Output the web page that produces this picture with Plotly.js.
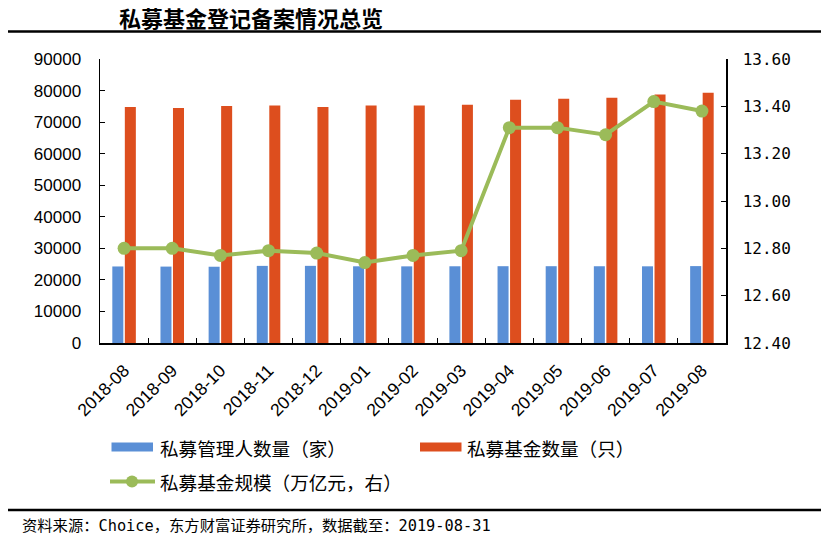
<!DOCTYPE html>
<html>
<head>
<meta charset="utf-8">
<script src="https://cdn.plot.ly/plotly-3.0.1.min.js"></script>
<style>html,body{margin:0;padding:0;background:#fff;}#chart{width:821px;height:538px;}</style>
</head>
<body>
<div id="chart"></div>
<script>
// ---- data ----
const months = ["2018-08","2018-09","2018-10","2018-11","2018-12","2019-01","2019-02","2019-03","2019-04","2019-05","2019-06","2019-07","2019-08"];
const managers = [24255, 24215, 24171, 24440, 24448, 24311, 24286, 24317, 24337, 24338, 24324, 24304, 24371];
const funds = [74790, 74470, 75100, 75300, 74790, 75300, 75300, 75520, 77100, 77410, 77730, 78780, 79320];
const scale = [12.80, 12.80, 12.77, 12.79, 12.78, 12.74, 12.77, 12.79, 13.31, 13.31, 13.28, 13.42, 13.38];
const seriesNames = ["私募管理人数量（家）", "私募基金数量（只）", "私募基金规模（万亿元，右）"];
const chartTitle = "私募基金登记备案情况总览";
const sourceNote = "资料来源：Choice，东方财富证券研究所，数据截至：2019-08-31";

const BLUE = "#5A8FD6", ORANGE = "#DD4E1E", GREEN = "#9BBB59";

// pixel helpers (plot area: l=100, r=95, t=59, b=195)
const L = 100, T = 59, PW = 821 - 100 - 95, PH = 538 - 59 - 195;
const px = x => (x - L) / PW;
const py = y => (T + PH - y) / PH;

const traces = [
  {type: "bar", x: months, y: managers, name: seriesNames[0], marker: {color: BLUE}, yaxis: "y"},
  {type: "bar", x: months, y: funds, name: seriesNames[1], marker: {color: ORANGE}, yaxis: "y"},
  {type: "scatter", mode: "lines+markers", x: months, y: scale, name: seriesNames[2], yaxis: "y2",
   line: {color: GREEN, width: 4}, marker: {color: GREEN, size: 13}}
];

const legendFont = {family: "Noto Sans CJK SC", size: 18.6, color: "#000"};
const shapes = [
  {type: "line", xref: "paper", yref: "paper", x0: px(8), x1: px(821), y0: py(31.5), y1: py(31.5), line: {color: "#000", width: 2.5}},
  {type: "line", xref: "paper", yref: "paper", x0: px(8), x1: px(821), y0: py(510), y1: py(510), line: {color: "#000", width: 2.5}},
  {type: "rect", xref: "paper", yref: "paper", x0: px(111.5), x1: px(153), y0: py(442.5), y1: py(451.5), fillcolor: BLUE, line: {width: 0}},
  {type: "rect", xref: "paper", yref: "paper", x0: px(420), x1: px(461.5), y0: py(442.5), y1: py(451.5), fillcolor: ORANGE, line: {width: 0}},
  {type: "line", xref: "paper", yref: "paper", x0: px(110), x1: px(155), y0: py(481.5), y1: py(481.5), line: {color: GREEN, width: 4}},
  {type: "circle", xref: "paper", yref: "paper", x0: px(126), x1: px(138), y0: py(475.5), y1: py(487.5), fillcolor: GREEN, line: {width: 0}}
];
const annotations = [
  {xref: "paper", yref: "paper", x: px(158), y: py(447), xanchor: "left", yanchor: "middle", showarrow: false, text: seriesNames[0], font: legendFont},
  {xref: "paper", yref: "paper", x: px(465), y: py(447), xanchor: "left", yanchor: "middle", showarrow: false, text: seriesNames[1], font: legendFont},
  {xref: "paper", yref: "paper", x: px(158), y: py(481.5), xanchor: "left", yanchor: "middle", showarrow: false, text: seriesNames[2], font: legendFont},
  {xref: "paper", yref: "paper", x: px(20), y: py(526), xanchor: "left", yanchor: "middle", showarrow: false, text: sourceNote,
   font: {family: "DejaVu Sans Mono, Noto Sans CJK SC", size: 15.3, color: "#000"}},
  {xref: "paper", yref: "paper", x: px(251), y: py(17), xanchor: "center", yanchor: "middle", showarrow: false, text: "<b>" + chartTitle + "</b>",
   font: {family: "Noto Sans CJK SC", size: 22, color: "#000"}}
];

const layout = {
  width: 821, height: 538,
  margin: {l: L, r: 95, t: T, b: 195, pad: 0},
  paper_bgcolor: "#fff", plot_bgcolor: "#fff",
  showlegend: false,
  barmode: "group", bargap: 0.48, bargroupgap: 0.12,
  xaxis: {type: "category", range: [-0.5, 12.5], autorange: false, automargin: false, showline: true, linecolor: "#000", linewidth: 1.5,
          ticks: "inside", tickson: "boundaries", ticklen: 5, tickcolor: "#000",
          tickangle: -45, tickfont: {family: "Liberation Sans", size: 17.5, color: "#000"}, showgrid: false, zeroline: false, ticklabelstandoff: 9},
  yaxis: {range: [0, 90000], autorange: false, automargin: false, dtick: 10000, tick0: 0, showline: true, linecolor: "#000", linewidth: 1.5, ticks: "inside", ticklen: 5, tickcolor: "#000",
          tickfont: {family: "Liberation Sans", size: 17, color: "#000"}, showgrid: false, zeroline: false, ticklabelstandoff: 14, tickformat: "d"},
  yaxis2: {overlaying: "y", side: "right", range: [12.4, 13.6], autorange: false, automargin: false, dtick: 0.2, tick0: 12.4, tickformat: ".2f", showline: true, linecolor: "#000", linewidth: 1.5,
           ticks: "inside", ticklen: 5, tickcolor: "#000", tickfont: {family: "DejaVu Sans Mono", size: 16, color: "#000"}, showgrid: false, zeroline: false, ticklabelstandoff: 12},
  shapes: shapes,
  annotations: annotations
};

Plotly.newPlot("chart", traces, layout, {displayModeBar: false, staticPlot: true});
</script>
</body>
</html>
